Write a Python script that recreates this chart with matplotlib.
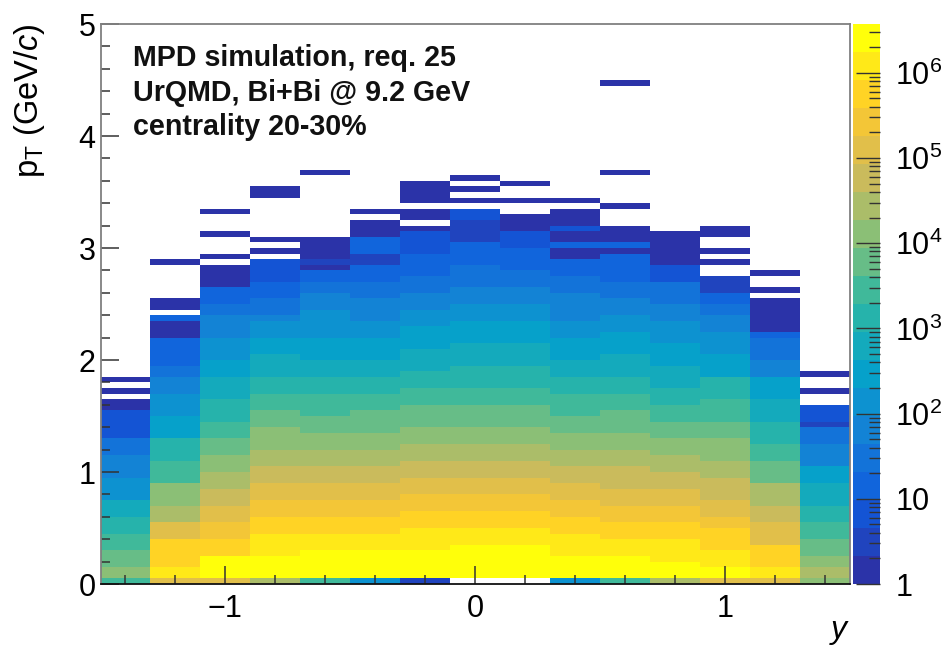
import numpy as np
import matplotlib
matplotlib.use("Agg")
import matplotlib.pyplot as plt
from matplotlib import colors
from matplotlib.ticker import FixedLocator, FuncFormatter, NullFormatter

plt.rcParams['font.family'] = ['Liberation Sans', 'DejaVu Sans']
plt.rcParams['mathtext.fontset'] = 'custom'
plt.rcParams['mathtext.rm'] = 'Liberation Sans'
plt.rcParams['mathtext.it'] = 'Liberation Sans:italic'
plt.rcParams['mathtext.default'] = 'regular'

# Histogram binning
y_edges = [-1.5, -1.3, -1.1, -0.9, -0.7, -0.5, -0.3, -0.1, 0.1, 0.3, 0.5, 0.7, 0.9, 1.1, 1.3, 1.5]
pt_step = 0.05
z_max = 3.74e6

# Counts for each colour contour of the palette
level_counts = [1.4, 3, 6.5, 14, 30, 63, 135, 290, 610, 1300, 2770, 5900,
                12500, 26700, 57000, 121000, 258000, 550000, 1.17e6, 2.5e6]

# For each rapidity column: top of each pT band, and its contour (-1 is an empty band)
tops_0 = [0.05, 0.15, 0.30, 0.45, 0.60, 0.75, 0.95, 1.15, 1.30, 1.55, 1.65, 1.70, 1.75, 1.80, 1.85]
levs_0 = [10, 12, 11, 10, 9, 8, 6, 5, 4, 2, 0, -1, 0, -1, 0]
tops_1 = [0.05, 0.15, 0.40, 0.55, 0.70, 0.90, 1.10, 1.30, 1.50, 1.70, 1.85, 1.95, 2.20, 2.35, 2.40, 2.45, 2.55, 2.85, 2.90]
levs_1 = [15, 18, 17, 15, 13, 12, 10, 9, 7, 6, 5, 4, 3, 0, 3, -1, 0, -1, 0]
tops_2 = [0.05, 0.25, 0.40, 0.55, 0.70, 0.85, 1.00, 1.15, 1.30, 1.45, 1.65, 1.85, 2.00, 2.20, 2.40, 2.50, 2.65, 2.85, 2.90, 2.95, 3.10, 3.15, 3.30, 3.35]
levs_2 = [15, 19, 17, 16, 15, 14, 13, 12, 11, 10, 9, 8, 7, 6, 5, 4, 3, 0, -1, 0, -1, 0, -1, 0]
tops_3 = [0.05, 0.25, 0.45, 0.60, 0.75, 0.90, 1.05, 1.20, 1.40, 1.55, 1.70, 1.85, 2.05, 2.20, 2.35, 2.40, 2.55, 2.70, 2.90, 2.95, 3.00, 3.05, 3.10, 3.45, 3.55]
levs_3 = [13, 19, 18, 17, 16, 15, 14, 13, 12, 11, 10, 9, 8, 7, 6, 5, 4, 3, 2, -1, 0, -1, 0, -1, 0]
tops_4 = [0.05, 0.30, 0.45, 0.60, 0.75, 0.90, 1.05, 1.20, 1.35, 1.50, 1.70, 1.85, 2.00, 2.20, 2.45, 2.60, 2.70, 2.80, 2.85, 2.90, 3.10, 3.65, 3.70]
levs_4 = [10, 19, 18, 17, 16, 15, 14, 13, 12, 11, 10, 9, 8, 7, 6, 5, 4, 3, 0, 1, 0, -1, 0]
tops_5 = [0.05, 0.30, 0.45, 0.60, 0.75, 0.90, 1.05, 1.20, 1.35, 1.55, 1.70, 1.85, 2.00, 2.20, 2.35, 2.55, 2.70, 2.85, 2.95, 3.10, 3.25, 3.30, 3.35]
levs_5 = [6, 19, 18, 17, 16, 15, 14, 13, 12, 11, 10, 9, 8, 7, 6, 5, 4, 3, 1, 3, 0, -1, 0]
tops_6 = [0.05, 0.30, 0.50, 0.65, 0.80, 0.95, 1.10, 1.25, 1.40, 1.60, 1.75, 1.90, 2.10, 2.30, 2.45, 2.60, 2.75, 2.95, 3.15, 3.20, 3.25, 3.35, 3.40, 3.60]
levs_6 = [1, 19, 18, 17, 16, 15, 14, 13, 12, 11, 10, 9, 8, 7, 6, 5, 4, 3, 2, 0, -1, 0, -1, 0]
tops_7 = [0.05, 0.35, 0.50, 0.65, 0.80, 0.95, 1.10, 1.25, 1.40, 1.60, 1.75, 1.95, 2.15, 2.35, 2.50, 2.65, 2.85, 3.05, 3.25, 3.35, 3.40, 3.45, 3.50, 3.55, 3.60, 3.65]
levs_7 = [-1, 19, 18, 17, 16, 15, 14, 13, 12, 11, 10, 9, 8, 7, 6, 5, 4, 3, 1, 2, -1, 0, -1, 0, -1, 0]
tops_8 = [0.05, 0.35, 0.50, 0.65, 0.80, 0.95, 1.10, 1.25, 1.40, 1.60, 1.75, 1.95, 2.15, 2.35, 2.50, 2.65, 2.80, 3.00, 3.15, 3.30, 3.40, 3.45, 3.55, 3.60]
levs_8 = [-1, 19, 18, 17, 16, 15, 14, 13, 12, 11, 10, 9, 8, 7, 6, 5, 4, 3, 2, 0, -1, 0, -1, 0]
tops_9 = [0.05, 0.25, 0.45, 0.60, 0.75, 0.90, 1.05, 1.20, 1.35, 1.50, 1.70, 1.85, 2.00, 2.20, 2.35, 2.60, 2.75, 2.90, 3.00, 3.05, 3.15, 3.20, 3.35, 3.40, 3.45]
levs_9 = [6, 19, 18, 17, 16, 15, 14, 13, 12, 11, 10, 9, 8, 7, 6, 5, 4, 3, 0, 3, 0, 2, 0, -1, 0]
tops_10 = [0.05, 0.25, 0.40, 0.55, 0.70, 0.85, 1.05, 1.20, 1.35, 1.55, 1.70, 1.85, 2.05, 2.25, 2.40, 2.55, 2.70, 2.95, 3.00, 3.05, 3.20, 3.35, 3.40, 3.65, 3.70, 4.45, 4.50]
levs_10 = [10, 19, 18, 17, 16, 15, 14, 13, 12, 11, 10, 9, 8, 7, 6, 5, 4, 3, 0, 3, 0, -1, 0, -1, 0, -1, 0]
tops_11 = [0.05, 0.20, 0.40, 0.55, 0.70, 0.85, 1.00, 1.15, 1.30, 1.45, 1.60, 1.75, 1.95, 2.15, 2.35, 2.50, 2.70, 2.85, 3.15]
levs_11 = [13, 19, 18, 17, 16, 15, 14, 13, 12, 11, 10, 9, 8, 7, 6, 5, 4, 2, 0]
tops_12 = [0.05, 0.15, 0.30, 0.50, 0.60, 0.75, 0.95, 1.10, 1.30, 1.45, 1.65, 1.85, 2.05, 2.25, 2.40, 2.50, 2.60, 2.75, 2.85, 2.90, 2.95, 3.00, 3.10, 3.20]
levs_12 = [15, 19, 18, 17, 16, 15, 14, 13, 12, 11, 10, 9, 7, 6, 5, 4, 3, 1, -1, 0, -1, 0, -1, 0]
tops_13 = [0.05, 0.15, 0.35, 0.55, 0.70, 0.90, 1.10, 1.25, 1.45, 1.65, 1.85, 2.00, 2.20, 2.25, 2.35, 2.55, 2.60, 2.65, 2.75, 2.80]
levs_13 = [15, 18, 17, 15, 14, 13, 11, 10, 9, 8, 7, 5, 4, 3, 0, 0, -1, 0, -1, 0]
tops_14 = [0.05, 0.15, 0.25, 0.40, 0.55, 0.70, 0.90, 1.05, 1.25, 1.40, 1.45, 1.60, 1.70, 1.75, 1.85, 1.90]
levs_14 = [12, 13, 12, 11, 10, 9, 8, 7, 5, 4, 1, 2, -1, 0, -1, 0]

all_tops = [tops_0, tops_1, tops_2, tops_3, tops_4, tops_5, tops_6, tops_7,
            tops_8, tops_9, tops_10, tops_11, tops_12, tops_13, tops_14]
all_levs = [levs_0, levs_1, levs_2, levs_3, levs_4, levs_5, levs_6, levs_7,
            levs_8, levs_9, levs_10, levs_11, levs_12, levs_13, levs_14]

z_ticks = [1, 10, 100, 1000, 10000, 100000, 1000000]
z_labels = ['1', '10', '$10^{2}$', '$10^{3}$', '$10^{4}$', '$10^{5}$', '$10^{6}$']

pt_edges = np.arange(0, 5 + pt_step / 2, pt_step)
counts = np.full((len(pt_edges) - 1, len(all_tops)), np.nan)
for col, (tops, levs) in enumerate(zip(all_tops, all_levs)):
    start = 0
    for top, lev in zip(tops, levs):
        stop = int(round(top / pt_step))
        if lev >= 0:
            counts[start:stop, col] = level_counts[lev]
        start = stop

# ROOT kBird palette, cut into 20 contours
bird = colors.LinearSegmentedColormap.from_list("bird", [
    (0.17, 0.20, 0.66), (0.06, 0.36, 0.87), (0.08, 0.50, 0.84), (0.02, 0.64, 0.79),
    (0.18, 0.72, 0.64), (0.53, 0.75, 0.47), (0.82, 0.73, 0.35), (1.00, 0.79, 0.17),
    (1.00, 1.00, 0.04)])
palette = colors.ListedColormap(bird(np.linspace(0, 1, 20)))
palette.set_bad("white")

fig = plt.figure(figsize=(9.43, 6.46), dpi=100)
ax = fig.add_axes([100.5 / 943, 1 - 584 / 646, 749 / 943, 560 / 646])
cax = fig.add_axes([853 / 943, 1 - 584 / 646, 27 / 943, 560 / 646])

mesh = ax.pcolormesh(y_edges, pt_edges, np.ma.masked_invalid(counts), cmap=palette,
                     norm=colors.LogNorm(vmin=1, vmax=z_max), linewidth=0)
ax.set_xlim(-1.5, 1.5)
ax.set_ylim(0, 5)

ax.xaxis.set_major_locator(FixedLocator([-1, 0, 1]))
ax.xaxis.set_minor_locator(FixedLocator([-1.4, -1.2, -0.8, -0.6, -0.4, -0.2, 0.2, 0.4, 0.6, 0.8, 1.2, 1.4]))
ax.yaxis.set_major_locator(FixedLocator([0, 1, 2, 3, 4, 5]))
ax.yaxis.set_minor_locator(FixedLocator(np.arange(0.2, 5, 0.2)))
ax.tick_params(which='major', direction='in', length=13, width=1.1, color='#333333', labelsize=22)
ax.tick_params(which='minor', direction='in', length=6.5, width=1.1, color='#333333')
ax.tick_params(axis='x', pad=7)
ax.tick_params(axis='y', pad=3.5)
ax.set_xticklabels(['\u22121', '0', '1'])

for side in ['top', 'right', 'left']:
    ax.spines[side].set_color('#808080')
    ax.spines[side].set_linewidth(1.3)
ax.spines['bottom'].set_color('#111111')
ax.spines['bottom'].set_linewidth(1.3)

# Colour bar with inward ticks on its right side
cbar = fig.colorbar(mesh, cax=cax)
cbar.outline.set_visible(False)
minor_ticks = [m * t for t in z_ticks for m in range(2, 10) if m * t < z_max]
cax.yaxis.set_major_locator(FixedLocator(z_ticks))
cax.yaxis.set_minor_locator(FixedLocator(minor_ticks))
cax.yaxis.set_minor_formatter(NullFormatter())
cax.yaxis.set_major_formatter(FuncFormatter(lambda v, pos: z_labels[pos]))
cax.tick_params(which='major', direction='in', length=17, width=1.0, color='#333333', labelsize=22, pad=11)
cax.tick_params(which='minor', direction='in', length=8, width=1.0, color='#333333')

fig.text(12 / 943, 1 - 23 / 646, 'p$_{T}$ (GeV/$\\mathit{c}$)', rotation=90, ha='left', va='top', fontsize=23.5)
fig.text(839 / 943, 1 - 638 / 646, 'y', style='italic', ha='center', va='baseline', fontsize=23)

ann = ['MPD simulation, req. 25', 'UrQMD, Bi+Bi @ 9.2 GeV', 'centrality 20-30%']
ann_base = [66, 101, 135]
for line, py in zip(ann, ann_base):
    fig.text(133 / 943, 1 - py / 646, line, fontweight='bold', fontsize=20.6, ha='left', va='baseline', color='#111111')

fig.savefig("out.png", dpi=100)
